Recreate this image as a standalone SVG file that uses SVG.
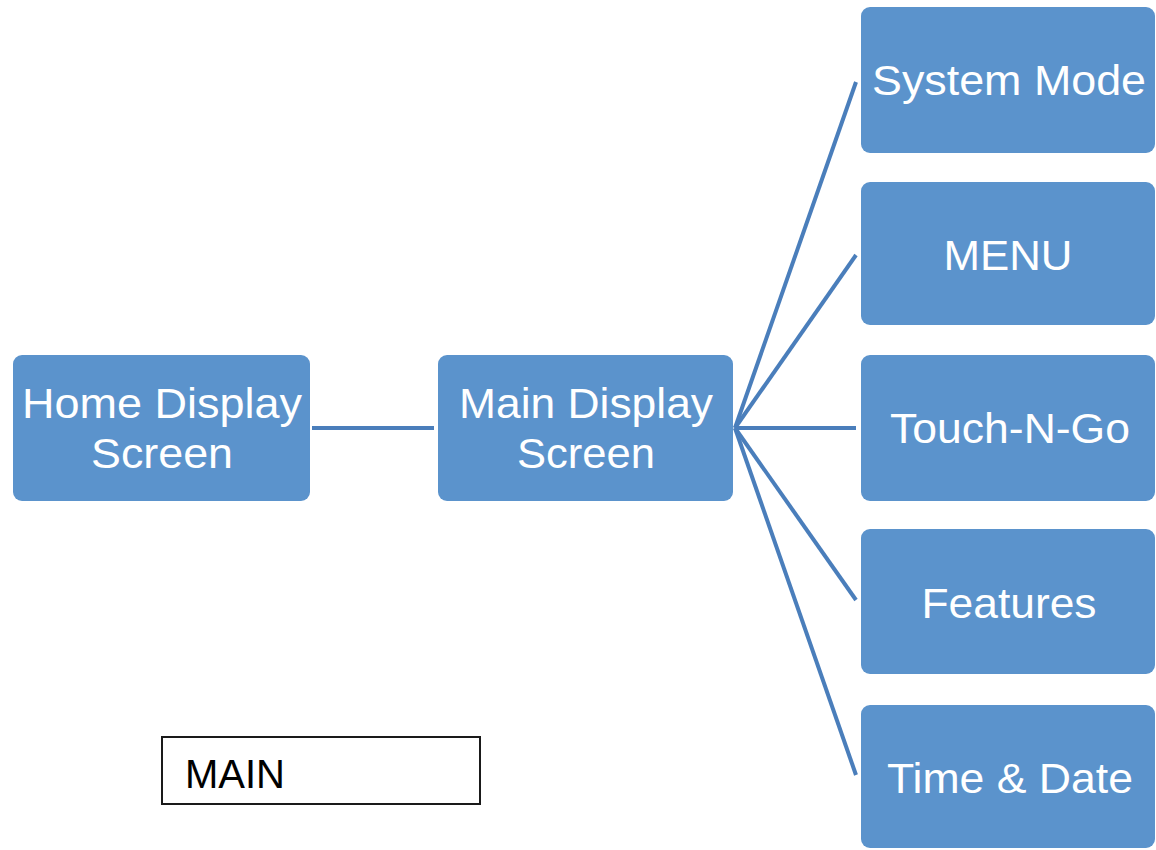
<svg xmlns="http://www.w3.org/2000/svg" width="1156" height="850" viewBox="0 0 1156 850">
  <style>
    .box { fill: #5b93cc; }
    .lbl { font-family: "Liberation Sans", Arial, sans-serif; font-size: 42px; fill: #ffffff; text-anchor: middle; }
    .edge { stroke: #4a7ebb; stroke-width: 4; fill: none; stroke-linecap: butt; }
    .tag { fill: #ffffff; stroke: #1a1a1a; stroke-width: 2; }
    .tagtxt { font-family: "Liberation Sans", Arial, sans-serif; font-size: 40px; fill: #000000; }
  </style>
  <rect width="1156" height="850" fill="#ffffff"/>

  <g id="connectors">
    <line class="edge" x1="312" y1="428" x2="434" y2="428"/>
    <line class="edge" x1="735" y1="428" x2="856" y2="82"/>
    <line class="edge" x1="735" y1="428" x2="856" y2="255"/>
    <line class="edge" x1="735" y1="428" x2="856" y2="428"/>
    <line class="edge" x1="735" y1="428" x2="856" y2="600"/>
    <line class="edge" x1="735" y1="428" x2="856" y2="775"/>
  </g>

  <g id="home-display-screen">
    <rect class="box" x="13" y="355" width="297" height="146" rx="9"/>
    <text class="lbl" x="162" y="418" textLength="280" lengthAdjust="spacingAndGlyphs">Home Display</text>
    <text class="lbl" x="162" y="468" textLength="142" lengthAdjust="spacingAndGlyphs">Screen</text>
  </g>

  <g id="main-display-screen">
    <rect class="box" x="438" y="355" width="295" height="146" rx="9"/>
    <text class="lbl" x="586" y="418" textLength="254" lengthAdjust="spacingAndGlyphs">Main Display</text>
    <text class="lbl" x="586" y="468" textLength="138" lengthAdjust="spacingAndGlyphs">Screen</text>
  </g>

  <g id="system-mode">
    <rect class="box" x="861" y="7" width="294" height="146" rx="9"/>
    <text class="lbl" x="1009" y="95" textLength="274" lengthAdjust="spacingAndGlyphs">System Mode</text>
  </g>

  <g id="menu">
    <rect class="box" x="861" y="182" width="294" height="143" rx="9"/>
    <text class="lbl" x="1008" y="270" textLength="129" lengthAdjust="spacingAndGlyphs">MENU</text>
  </g>

  <g id="touch-n-go">
    <rect class="box" x="861" y="355" width="294" height="146" rx="9"/>
    <text class="lbl" x="1010" y="443" textLength="240" lengthAdjust="spacingAndGlyphs">Touch-N-Go</text>
  </g>

  <g id="features">
    <rect class="box" x="861" y="529" width="294" height="145" rx="9"/>
    <text class="lbl" x="1009" y="618" textLength="175" lengthAdjust="spacingAndGlyphs">Features</text>
  </g>

  <g id="time-and-date">
    <rect class="box" x="861" y="705" width="294" height="143" rx="9"/>
    <text class="lbl" x="1010" y="793" textLength="246" lengthAdjust="spacingAndGlyphs">Time &amp; Date</text>
  </g>

  <g id="main-tag">
    <rect class="tag" x="162" y="737" width="318" height="67"/>
    <text class="tagtxt" x="185" y="788">MAIN</text>
  </g>
</svg>
